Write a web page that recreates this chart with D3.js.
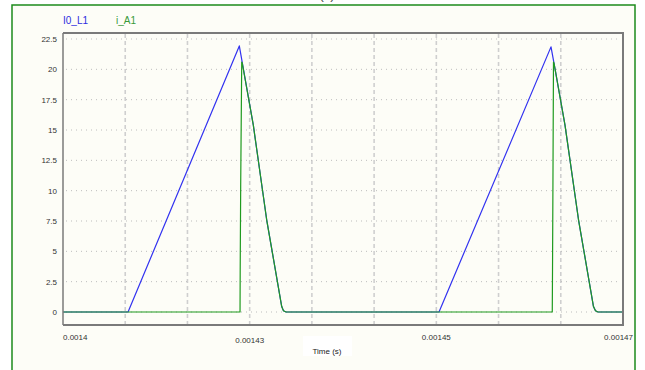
<!DOCTYPE html>
<html>
<head>
<meta charset="utf-8">
<script src="https://cdn.jsdelivr.net/npm/d3@7"></script>
<style>
  html, body { margin: 0; padding: 0; background: #ffffff; }
  svg { display: block; font-family: "Liberation Sans", Arial, sans-serif; }
</style>
</head>
<body>
<script>
// Inductor current I0_L1 (time in s, current in A)
const timeL1 = [0.0014, 0.00140813, 0.00142204, 0.00142241, 0.00142379, 0.00142546,
  0.00142734, 0.00142756, 0.00142788, 0.00144700, 0.00146100, 0.00146138,
  0.00146275, 0.00146444, 0.00146631, 0.00146656, 0.00146688, 0.00147];
const valL1 = [0, 0, 21.93, 20.55, 15.4, 7.6, 0.45, 0.1, 0, 0, 21.85, 20.5,
  15.4, 7.6, 0.45, 0.1, 0, 0];

// Diode/switch current i_A1
const timeA1 = [0.0014, 0.00142213, 0.00142215, 0.00142221, 0.00142234, 0.00142241,
  0.00142379, 0.00142546, 0.00142734, 0.00142756, 0.00142788, 0.00146116,
  0.00146119, 0.00146124, 0.00146131, 0.00146138, 0.00146275, 0.00146444,
  0.00146631, 0.00146656, 0.00146688, 0.00147];
const valA1 = [0, 0, 3.5, 10.3, 20.6, 20.5, 15.4, 7.6, 0.45, 0.1, 0, 0,
  3.5, 10.3, 20.6, 20.5, 15.4, 7.6, 0.45, 0.1, 0, 0];

const seriesNames = ["I0_L1", "i_A1"];
const seriesColors = ["#3232f0", "#1f9a1f"];
const legendColors = ["#2d2de0", "#3a9a3a"];

const yTicks = [0, 2.5, 5, 7.5, 10, 12.5, 15, 17.5, 20, 22.5];
const xDomain = [0.0014, 0.00147];
const xGridCount = 9;
const xLabelIndex = [0, 3, 6, 9];
const xTickLabels = ["0.0014", "0.00143", "0.00145", "0.00147"];
const xTitle = "Time (s)";
const caption = "(c)";

const W = 645, H = 370;
const plot = { left: 63, right: 623, top: 33, bottom: 325 };

const svg = d3.select("body").append("svg").attr("width", W).attr("height", H);

// outer panel
svg.append("rect").attr("x", 12).attr("y", 5).attr("width", 623).attr("height", 380)
  .attr("fill", "#fdfdf7").attr("stroke", "#1c8a1c").attr("stroke-width", 1.5);

svg.append("text").attr("x", 327).attr("y", -1).attr("text-anchor", "middle")
  .attr("font-size", 13).attr("fill", "#444").text(caption);

const x = d3.scaleLinear().domain(xDomain).range([plot.left, plot.right]);
const y = d3.scaleLinear().domain([0, 22.5]).range([312, 39]);

// grid: vertical dashed
const xGrid = d3.range(1, xGridCount).map(i => xDomain[0] + (xDomain[1] - xDomain[0]) * i / xGridCount);
svg.append("g").selectAll("line").data(xGrid).join("line")
  .attr("x1", d => x(d)).attr("x2", d => x(d))
  .attr("y1", plot.top + 1).attr("y2", plot.bottom - 1)
  .attr("stroke", "#cfcfcf").attr("stroke-width", 1.6).attr("stroke-dasharray", "4,3");

// grid: horizontal dotted
svg.append("g").selectAll("line").data(yTicks).join("line")
  .attr("x1", plot.left + 3).attr("x2", plot.right - 3)
  .attr("y1", d => y(d)).attr("y2", d => y(d))
  .attr("stroke", "#bdbdbd").attr("stroke-width", 1).attr("stroke-dasharray", "1,4");

// y tick labels
svg.append("g").selectAll("text").data(yTicks).join("text")
  .attr("x", 57).attr("y", d => y(d) + 3).attr("text-anchor", "end")
  .attr("font-size", 8).attr("fill", "#333")
  .text(d => d3.format("")(d));

// x tick labels
const xLabelTicks = xLabelIndex.map(i => xDomain[0] + (xDomain[1] - xDomain[0]) * i / xGridCount);
svg.append("g").selectAll("text").data(xLabelTicks).join("text")
  .attr("x", (d, i) => i === 0 ? x(d) : (i === xLabelTicks.length - 1 ? x(d) + 10 : x(d)))
  .attr("y", (d, i) => i === 1 ? 343 : 340)
  .attr("text-anchor", (d, i) => i === 0 ? "start" : (i === xLabelTicks.length - 1 ? "end" : "middle"))
  .attr("font-size", 8).attr("fill", "#333")
  .text((d, i) => xTickLabels[i]);

// axis title on white box
svg.append("rect").attr("x", 303).attr("y", 336).attr("width", 49).attr("height", 20).attr("fill", "#ffffff");
svg.append("text").attr("x", 327).attr("y", 354).attr("text-anchor", "middle")
  .attr("font-size", 8).attr("fill", "#222").text(xTitle);

// series
const line = d3.line().x(d => x(d[0])).y(d => y(d[1]));
const dataL1 = timeL1.map((t, i) => [t, valL1[i]]);
const dataA1 = timeA1.map((t, i) => [t, valA1[i]]);
const clip = svg.append("clipPath").attr("id", "plotclip").append("rect")
  .attr("x", plot.left).attr("y", plot.top).attr("width", plot.right - plot.left).attr("height", plot.bottom - plot.top);
const gLines = svg.append("g").attr("clip-path", "url(#plotclip)");
[dataL1, dataA1].forEach((d, i) => {
  gLines.append("path").datum(d).attr("d", line)
    .attr("fill", "none").attr("stroke", seriesColors[i]).attr("stroke-width", 1.2)
    .attr("stroke-linejoin", "round");
});

// frame
svg.append("line").attr("x1", plot.left).attr("x2", plot.right + 1).attr("y1", plot.top).attr("y2", plot.top)
  .attr("stroke", "#7a7a7a").attr("stroke-width", 2);
svg.append("line").attr("x1", plot.right).attr("x2", plot.right).attr("y1", plot.top).attr("y2", plot.bottom)
  .attr("stroke", "#7a7a7a").attr("stroke-width", 2);
svg.append("line").attr("x1", plot.left).attr("x2", plot.right + 1).attr("y1", plot.bottom).attr("y2", plot.bottom)
  .attr("stroke", "#7a7a7a").attr("stroke-width", 2);
svg.append("line").attr("x1", plot.left).attr("x2", plot.left).attr("y1", plot.top).attr("y2", plot.bottom)
  .attr("stroke", "#7a7a7a").attr("stroke-width", 1.5);

// legend
const legendX = [63, 116];
svg.append("g").selectAll("text").data(seriesNames).join("text")
  .attr("x", (d, i) => legendX[i]).attr("y", 24)
  .attr("font-size", 10).attr("fill", (d, i) => legendColors[i])
  .text(d => d);
</script>
</body>
</html>
